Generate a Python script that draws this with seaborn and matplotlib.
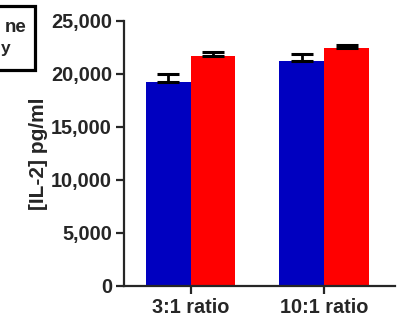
import pandas as pd
import seaborn as sns
import matplotlib.pyplot as plt
from matplotlib.patches import Rectangle

ratios = ['3:1 ratio', '10:1 ratio']
grupos = ['Cell line', 'Antibody']
medias_1 = [19250, 21230]
medias_2 = [21700, 22450]
errores_1 = [750, 650]
errores_2 = [350, 300]
colores = ['#0000C0', '#FF0000']
# lo que se ve de la leyenda, recortada en el borde izquierdo
leyenda_visible = ['ne', 'y']

df = pd.DataFrame({
    'ratio': ratios * 2,
    'grupo': [grupos[0]] * 2 + [grupos[1]] * 2,
    'il2': medias_1 + medias_2,
    'err': errores_1 + errores_2,
})

sns.set_style('ticks')
plt.rcParams['font.family'] = ['Liberation Sans', 'DejaVu Sans']
plt.rcParams['font.weight'] = 'bold'

fig = plt.figure(figsize=(3.97, 3.22), dpi=100)
ax = fig.add_axes([0.312, 0.112, 0.683, 0.823])

sns.barplot(
    data=df, x='ratio', y='il2', hue='grupo',
    palette=colores, width=0.67, gap=0, errorbar=None,
    saturation=1, linewidth=0, ax=ax, legend=False
)

# barras de error solo hacia arriba, como en Prism
barras = [p for p in ax.patches if p.get_height() > 0]
for p, e in zip(barras, df['err']):
    xc = p.get_x() + p.get_width() / 2
    ax.errorbar(xc, p.get_height(), yerr=[[0], [e]], fmt='none',
                ecolor='black', elinewidth=2, capsize=8, capthick=2.2)

ax.set_xlim(-0.5, 1.53)
ax.set_ylim(0, 25000)
ax.set_yticks([0, 5000, 10000, 15000, 20000, 25000])
ax.set_yticklabels(['0', '5,000', '10,000', '15,000', '20,000', '25,000'])
ax.set_xlabel('')
ax.set_ylabel('[IL-2] pg/ml', fontsize=15, fontweight='bold', labelpad=2)
ax.tick_params(axis='both', labelsize=14.3, width=1.6, length=6, pad=2.5)
for lab in ax.get_xticklabels() + ax.get_yticklabels():
    lab.set_fontweight('bold')
for s in ['left', 'bottom']:
    ax.spines[s].set_linewidth(1.6)
sns.despine(ax=ax)

fig.patches.append(Rectangle((-0.15, 0.783), 0.237, 0.197, transform=fig.transFigure,
                             fill=False, edgecolor='black', linewidth=2.3))
fig.text(0.068, 0.901, leyenda_visible[0], ha='right', va='baseline',
         fontsize=13.5, fontweight='bold')
fig.text(0.003, 0.835, leyenda_visible[1], ha='left', va='baseline',
         fontsize=12.5, fontweight='bold')

fig.savefig('out.png', dpi=100)
